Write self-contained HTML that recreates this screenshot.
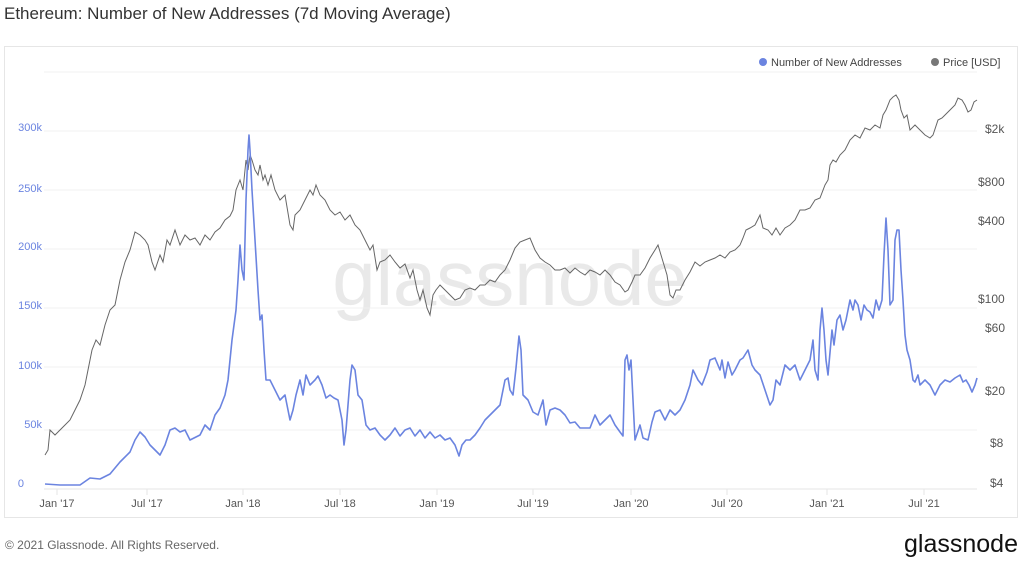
<!DOCTYPE html>
<html><head><meta charset="utf-8"><style>
body{margin:0;width:1024px;height:562px;background:#fff;font-family:"Liberation Sans",sans-serif;overflow:hidden;position:relative}
.t{position:absolute;white-space:nowrap}
</style></head><body>
<div class="t" style="left:4px;top:4px;font-size:17px;color:#333">Ethereum: Number of New Addresses (7d Moving Average)</div>
<div class="t" style="left:5px;top:538px;font-size:12px;color:#666">© 2021 Glassnode. All Rights Reserved.</div>
<div class="t" style="left:904px;top:530px;font-size:25px;color:#111">glassnode</div>
<svg width="1024" height="562" style="position:absolute;left:0;top:0">
<rect x="4.5" y="46.5" width="1013" height="471" fill="none" stroke="#e6e6e6"/>
<text x="510" y="305" font-size="78" fill="#e9e9e9" text-anchor="middle" font-family="Liberation Sans">glassnode</text>
<g stroke="#f0f0f0">
<line x1="44" x2="977" y1="72" y2="72"/><line x1="44" x2="977" y1="131" y2="131"/><line x1="44" x2="977" y1="190" y2="190"/><line x1="44" x2="977" y1="249" y2="249"/><line x1="44" x2="977" y1="308" y2="308"/><line x1="44" x2="977" y1="367" y2="367"/><line x1="44" x2="977" y1="430" y2="430"/>
</g>
<line x1="44" x2="977" y1="489" y2="489" stroke="#e6e6e6"/>
<g stroke="#e6e6e6"><line x1="57" x2="57" y1="489" y2="495"/><line x1="147" x2="147" y1="489" y2="495"/><line x1="243" x2="243" y1="489" y2="495"/><line x1="340" x2="340" y1="489" y2="495"/><line x1="437" x2="437" y1="489" y2="495"/><line x1="533" x2="533" y1="489" y2="495"/><line x1="631" x2="631" y1="489" y2="495"/><line x1="727" x2="727" y1="489" y2="495"/><line x1="827" x2="827" y1="489" y2="495"/><line x1="924" x2="924" y1="489" y2="495"/></g>
<g font-size="11" fill="#555" text-anchor="middle">
<text x="57" y="507">Jan '17</text><text x="147" y="507">Jul '17</text><text x="243" y="507">Jan '18</text><text x="340" y="507">Jul '18</text><text x="437" y="507">Jan '19</text><text x="533" y="507">Jul '19</text><text x="631" y="507">Jan '20</text><text x="727" y="507">Jul '20</text><text x="827" y="507">Jan '21</text><text x="924" y="507">Jul '21</text>
</g>
<g font-size="11" fill="#6b84e0" text-anchor="end">
<text x="42" y="131">300k</text><text x="42" y="192">250k</text><text x="42" y="250">200k</text><text x="42" y="309">150k</text><text x="42" y="369">100k</text><text x="42" y="428">50k</text><text x="24" y="487">0</text>
</g>
<g font-size="12" fill="#555">
<text x="985" y="133">$2k</text><text x="978" y="186">$800</text><text x="978" y="225">$400</text><text x="978" y="303">$100</text><text x="985" y="332">$60</text><text x="985" y="395">$20</text><text x="990" y="447">$8</text><text x="990" y="487">$4</text>
</g>
<circle cx="763" cy="62" r="4" fill="#6b84e0"/><text x="771" y="66" font-size="11" fill="#444">Number of New Addresses</text>
<circle cx="935" cy="62" r="4" fill="#777"/><text x="943" y="66" font-size="11" fill="#444">Price [USD]</text>
<polyline fill="none" stroke="#666" stroke-width="1" points="45,455 48,450 50,430 55,435 60,430 65,425 70,420 75,410 80,400 85,385 88,370 92,350 96,340 100,345 105,325 110,310 115,305 120,280 125,262 130,250 135,232 140,235 145,240 148,245 152,262 155,270 160,255 163,262 167,240 170,245 175,230 180,245 185,235 190,240 195,238 200,245 205,235 210,240 215,232 220,228 225,220 230,216 233,210 236,190 240,180 243,190 246,160 248,170 250,155 252,160 255,170 258,175 260,165 263,180 265,175 268,185 271,175 275,190 280,200 285,195 290,225 293,230 295,215 300,210 305,200 310,190 313,195 316,185 320,195 325,200 330,210 335,215 340,212 345,220 350,215 355,225 360,230 365,240 370,250 373,245 377,270 380,262 385,260 390,255 395,262 400,268 405,264 410,278 413,270 417,290 420,300 423,290 427,308 430,315 433,295 436,290 440,285 445,290 450,295 455,300 460,298 465,290 470,288 475,290 480,285 485,285 490,280 495,282 500,275 505,270 510,260 515,248 520,242 525,240 530,238 535,250 540,258 545,262 550,265 555,270 560,270 565,268 570,273 575,268 580,272 585,275 590,270 595,272 600,275 605,270 610,275 615,282 620,285 625,292 628,290 632,282 635,275 640,275 645,268 650,258 655,250 658,245 661,255 664,265 667,275 670,295 673,298 676,290 680,290 685,280 690,272 695,262 700,266 705,262 710,260 715,258 720,255 725,258 730,252 735,250 740,245 743,238 746,230 750,228 755,225 760,215 763,228 768,230 772,235 776,228 780,235 785,228 790,225 795,220 800,210 805,210 810,208 815,200 820,198 825,185 828,180 830,165 833,160 836,162 840,155 845,150 850,140 855,135 860,138 865,128 870,130 875,125 880,128 883,115 886,110 890,100 893,97 896,95 899,100 901,110 904,118 907,115 910,130 915,125 920,130 925,135 930,138 933,135 938,120 942,118 945,115 950,110 955,105 958,98 962,100 965,105 968,112 971,110 974,102 977,100"/>
<polyline fill="none" stroke="#6b84e0" stroke-width="1.6" stroke-linejoin="round" points="45,484 60,485 80,485 90,478 100,479 110,474 120,462 130,452 135,440 140,432 145,437 150,445 155,450 160,455 165,445 170,430 175,428 180,432 185,430 190,440 200,435 205,425 210,430 215,415 220,408 225,395 228,380 232,340 236,310 238,280 240,245 242,270 244,280 246,200 248,150 249,135 250,150 252,190 255,240 258,290 260,320 262,315 264,350 266,380 270,380 275,390 280,400 285,395 290,420 293,410 296,395 300,380 303,395 306,375 310,385 315,380 318,376 322,385 326,398 330,395 334,398 338,400 342,420 344,445 346,430 348,405 350,380 352,365 355,370 358,395 362,400 366,425 370,430 375,428 380,435 385,440 390,435 395,428 400,436 405,430 410,428 415,436 420,430 425,438 430,432 435,438 440,435 445,440 450,438 455,445 459,456 462,445 466,440 470,440 475,435 480,428 485,420 490,415 495,410 500,405 505,380 508,378 510,390 513,395 516,368 519,336 521,350 523,395 528,400 533,412 538,415 543,400 546,425 550,410 555,408 560,410 565,415 570,423 575,422 580,428 585,428 590,428 595,415 600,425 605,420 610,415 615,425 620,432 623,436 625,360 627,355 629,370 631,360 633,400 635,440 640,425 643,438 648,440 652,422 655,412 660,410 665,420 670,410 675,415 680,410 685,400 690,385 693,370 698,380 702,385 707,372 710,360 715,358 720,370 722,360 725,378 728,362 732,375 735,370 740,360 743,358 748,350 752,365 755,370 760,375 765,390 770,405 773,400 776,380 780,385 785,365 790,370 795,365 800,380 805,370 810,360 813,340 815,370 818,380 820,330 822,308 824,330 826,360 828,375 832,330 834,345 837,320 840,315 843,330 846,320 850,300 853,310 855,300 858,305 861,320 864,305 867,310 870,312 873,318 876,300 879,310 882,300 884,255 886,218 888,250 890,305 893,300 895,240 897,230 899,230 901,270 903,300 905,335 907,350 910,360 913,380 915,382 918,375 920,385 925,380 930,385 935,395 940,385 945,380 950,382 955,378 960,375 963,382 966,380 969,385 972,392 975,385 977,378"/>
</svg>
</body></html>
